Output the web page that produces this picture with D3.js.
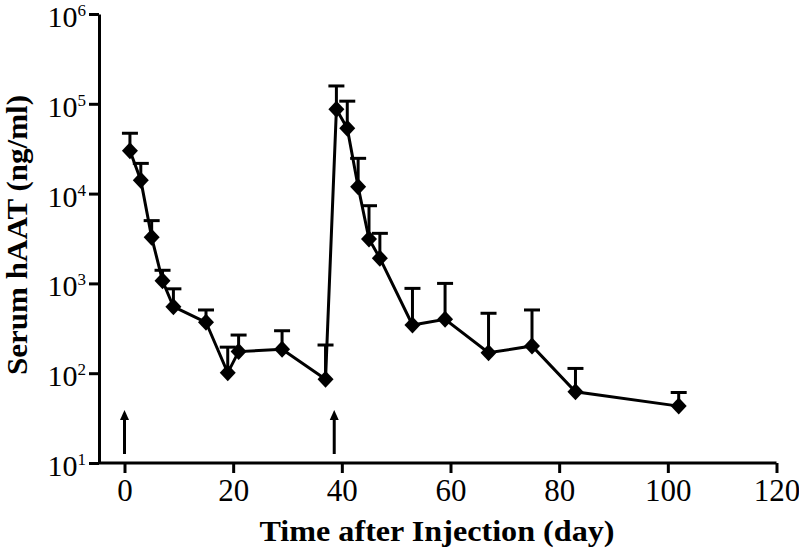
<!DOCTYPE html>
<html>
<head>
<meta charset="utf-8">
<script src="https://cdn.jsdelivr.net/npm/d3@7/dist/d3.min.js"></script>
<style>
  html, body { margin: 0; padding: 0; background: #fff; }
  svg { display: block; }
  svg text { font-family: "Liberation Serif", "Times New Roman", Times, serif; }
</style>
</head>
<body>
<svg id="chart" width="799" height="553"></svg>
<script>
// ---- data ----
const days   = [1, 3, 5, 7, 9, 15, 19, 21, 29, 37, 39, 41, 43, 45, 47, 53, 59, 67, 75, 83, 102];
const values = [30000, 14100, 3260, 1070, 550, 369, 101, 174, 185, 85.5, 87000, 53300, 11900, 3120, 1910, 344, 398, 169, 201, 62, 43];
const upper  = [47000, 21700, 5000, 1400, 870, 506, 195, 266, 297, 206, 158000, 107000, 24700, 7330, 3610, 880, 1000, 465, 506, 113, 61];
const injectionDays = [0, 38.6];
const xTicks = [0, 20, 40, 60, 80, 100, 120];
const yTickExponents = [1, 2, 3, 4, 5, 6];
const xTitle = "Time after Injection (day)";
const yTitle = "Serum hAAT (ng/ml)";

const svg = d3.select("#chart");
svg.append("rect").attr("width", 799).attr("height", 553).attr("fill", "#fff");

const x = d3.scaleLinear().domain([0, 120]).range([124.5, 776.5]);
const y = d3.scaleLog().domain([10, 1e6]).range([463, 14]);
const axisLeftX = 99;

// X axis
const gx = svg.append("g").attr("transform", "translate(0,463)")
  .call(d3.axisBottom(x).tickValues(xTicks).tickSize(10).tickSizeOuter(0).tickFormat(d3.format("d")));
gx.attr("font-family", null).attr("font-size", null);
gx.select(".domain").attr("d", `M${axisLeftX},0H${x(120)}`);
gx.selectAll("path, line").attr("stroke", "#000").attr("stroke-width", 3);
gx.selectAll("text").attr("font-size", 31).attr("fill", "#000")
  .attr("y", 16).attr("dy", "0.71em");

// Y axis
const gy = svg.append("g").attr("transform", `translate(${axisLeftX},0)`)
  .call(d3.axisLeft(y).tickValues(yTickExponents.map(e => Math.pow(10, e))).tickSize(10).tickSizeOuter(0).tickFormat(""));
gy.selectAll("path, line").attr("stroke", "#000").attr("stroke-width", 3);

// Y tick labels with superscripts
const yl = svg.append("g");
yTickExponents.forEach(e => {
  const t = yl.append("text")
    .attr("x", 86).attr("y", y(Math.pow(10, e)) + 13)
    .attr("text-anchor", "end")
    .attr("font-size", 30).attr("fill", "#000");
  t.append("tspan").text("10");
  t.append("tspan").attr("dy", -11).attr("font-size", 17).text(String(e));
});

// Axis titles
svg.append("text")
  .attr("x", 437).attr("y", 541)
  .attr("text-anchor", "middle")
  .attr("font-weight", "bold").attr("font-size", 29)
  .attr("textLength", 355).attr("lengthAdjust", "spacingAndGlyphs")
  .text(xTitle);

svg.append("text")
  .attr("transform", "translate(27,235) rotate(-90)")
  .attr("text-anchor", "middle")
  .attr("font-weight", "bold").attr("font-size", 29)
  .attr("textLength", 280).attr("lengthAdjust", "spacingAndGlyphs")
  .text(yTitle);

const data = days.map((d, i) => ({ day: d, v: values[i], up: upper[i] }));

// Error bars (upper only)
const eb = svg.append("g").attr("stroke", "#000").attr("stroke-width", 3);
eb.selectAll("line.v").data(data).join("line")
  .attr("x1", d => x(d.day)).attr("x2", d => x(d.day))
  .attr("y1", d => y(d.v)).attr("y2", d => y(d.up));
eb.selectAll("line.c").data(data).join("line")
  .attr("x1", d => x(d.day) - 8).attr("x2", d => x(d.day) + 8)
  .attr("y1", d => y(d.up)).attr("y2", d => y(d.up));

// Line
svg.append("path").datum(data)
  .attr("fill", "none").attr("stroke", "#000").attr("stroke-width", 3)
  .attr("d", d3.line().x(d => x(d.day)).y(d => y(d.v)));

// Diamond markers
svg.append("g").selectAll("path").data(data).join("path")
  .attr("transform", d => `translate(${x(d.day)},${y(d.v)})`)
  .attr("d", "M0,-8.5L8,0L0,8.5L-8,0Z")
  .attr("fill", "#000");

// Injection arrows
const ar = svg.append("g");
injectionDays.forEach(d => {
  ar.append("line").attr("x1", x(d)).attr("x2", x(d)).attr("y1", 454).attr("y2", 418)
    .attr("stroke", "#000").attr("stroke-width", 3);
  ar.append("path")
    .attr("d", `M${x(d)},${410}L${x(d) + 4.5},${420}L${x(d) - 4.5},${420}Z`)
    .attr("fill", "#000");
});
</script>
</body>
</html>
